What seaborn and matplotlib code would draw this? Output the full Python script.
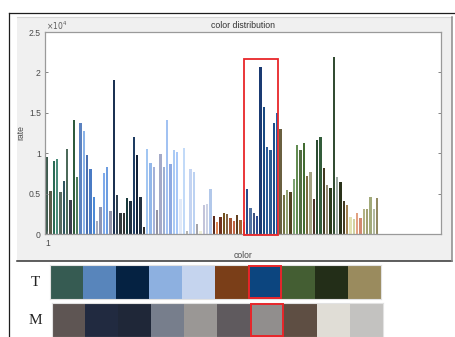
import numpy as np
import pandas as pd
import matplotlib
matplotlib.use("Agg")
import matplotlib.pyplot as plt
from matplotlib.patches import Rectangle
from matplotlib.lines import Line2D
from matplotlib.colors import ListedColormap
import seaborn as sns

plt.rcParams["font.family"] = ["Liberation Sans", "DejaVu Sans"]

# ---- data -------------------------------------------------------------
bar_labels = [str(i) for i in range(1, 101)]

rates = [
    9490, 5320, 9000, 9320, 5160, 6600, 10480, 4210, 14110, 7010,
    13700, 12790, 9820, 8000, 4620, 1650, 3380, 7510, 8330, 2890,
    19060, 4790, 2600, 2600, 4460, 4040, 12000, 9740, 4620, 830,
    10480, 8790, 8250, 2970, 9940, 8250, 14070, 8620, 10400, 10150,
    4290, 10600, 410, 8090, 7670, 1280, 330, 3590, 3670, 5610,
    2230, 1530, 2060, 2600, 2480, 1980, 1650, 2310, 1730, 1440,
    5530, 3220, 2600, 2270, 20710, 15760, 10770, 10440, 13740, 15020,
    13000, 4830, 5450, 5240, 6770, 10960, 10360, 11260, 7180, 7710,
    4330, 11630, 12050, 8130, 6060, 5650, 21950, 7090, 6400, 4040,
    3550, 2150, 1820, 2560, 1980, 3050, 3140, 4620, 3090, 4460,
]

bar_colors = [
    "#3d5a4e", "#5a5c4a", "#2a6b55", "#4a8c7a", "#596a60", "#2f5560", "#4c6a5a", "#3c3c4c", "#2e5a3c", "#4f7c5c",
    "#5b82c0", "#8ab3e8", "#4a70b0", "#4a7bc4", "#4d8ad6", "#a5aabb", "#8d96b5", "#7faaea", "#6d9de0", "#9293a8",
    "#1b3152", "#2f4050", "#33393a", "#2f3030", "#1a3a3c", "#1f2f40", "#1e3c62", "#12223a", "#223040", "#303030",
    "#a2c6f2", "#93b8ea", "#a4b2d8", "#9494a4", "#a4aac8", "#9cb0d4", "#a2c2f2", "#8eaae2", "#aacaf4", "#a8c8f8",
    "#e2eaf8", "#c2daf8", "#b4b4b0", "#c4d4f2", "#bcd2f2", "#a4a4aa", "#f0f0d8", "#c2c4da", "#ccd2e4", "#b2c8ea",
    "#5c2a1a", "#e08452", "#72321e", "#72521e", "#826242", "#a25434", "#c26444", "#624222", "#a26434", "#c08454",
    "#2a4c8c", "#5272a2", "#3c5282", "#2c4c92", "#1a3a72", "#1a4a82", "#2a5c9a", "#2c5c92", "#1c4c8a", "#2262aa",
    "#6a6040", "#727242", "#92a272", "#524222", "#7ca272", "#628c52", "#526c42", "#426c32", "#7c6c42", "#a2a282",
    "#4c3228", "#2c4c32", "#325c3a", "#423a22", "#928a72", "#2a3a1a", "#324c32", "#9caaa2", "#2a321a", "#423a22",
    "#a28252", "#e2e2b2", "#d2d2a2", "#e2a282", "#d28a72", "#b2b282", "#a2a272", "#a2aa7a", "#b2baa2", "#928a62",
]

ytick_values = [0, 5000, 10000, 15000, 20000, 25000]
ytick_labels = ["0", "0.5", "1", "1.5", "2", "2.5"]
xtick_labels = ["1"]

top_colors = ["#365b52", "#5885bb", "#052242", "#8db0e0", "#c5d4ee",
              "#7a3e18", "#0c457f", "#445e33", "#232e18", "#9a8b5e"]
bottom_colors = ["#5e5553", "#212a40", "#1f2738", "#777e8c", "#9a9795",
                 "#5f5a5e", "#918e8d", "#5e4e43", "#e0ddd6", "#c3c2c0"]
row_names = ["T", "M"]
highlight = 6  # highlighted colour group (0-based)

# ---- figure helpers (pixel -> figure fraction) -----------------------
W, H = 455, 337
fig = plt.figure(figsize=(W / 100, H / 100), dpi=100)
fig.patch.set_facecolor("white")


def fx(px):
    return px / W


def fy(py):
    return 1 - py / H


# outer frame
fig.add_artist(Line2D([fx(8.5), fx(8.5)], [fy(12.5), 0], color="#1e1e1e", lw=0.9))
fig.add_artist(Line2D([fx(8.5), 1], [fy(12.5), fy(12.5)], color="#1e1e1e", lw=0.9))

# grey figure panel
fig.add_artist(Rectangle((fx(16.7), fy(261)), (451.7 - 16.7) / W, (261 - 16.7) / H,
                         transform=fig.transFigure, facecolor="#f0f0f0",
                         edgecolor="none", zorder=0))
fig.add_artist(Line2D([fx(16.7), fx(451.7)], [fy(17), fy(17)], color="#d6d6d6", lw=0.8))
fig.add_artist(Line2D([fx(16.7), fx(452.3)], [fy(261), fy(261)], color="#333333", lw=1.1))
fig.add_artist(Line2D([fx(451.7), fx(451.7)], [fy(16.7), fy(261)], color="#8a8a8a", lw=1.1))

# ---- bar chart --------------------------------------------------------
ax = fig.add_axes([fx(45), fy(234), 396 / W, 202 / H])
df = pd.DataFrame({"color": bar_labels, "rate": rates})
sns.barplot(data=df, x="color", y="rate", hue="color",
            palette=dict(zip(bar_labels, bar_colors)), legend=False,
            saturation=1, width=0.68, edgecolor="none", linewidth=0, ax=ax)

ax.set_facecolor("white")
ax.set_xlim(-0.69, 118.2)
ax.set_ylim(0, 25000)
ax.set_xticks([0])
ax.set_xticklabels(xtick_labels)
ax.set_yticks(ytick_values)
ax.set_yticklabels(ytick_labels)
ax.tick_params(axis="both", direction="in", length=2.5, width=0.6,
               labelsize=6.2, labelcolor="#4a4a4a", color="#707070")
ax.tick_params(axis="y", right=True, pad=3)
ax.tick_params(axis="x", pad=3.5)
for side in ax.spines.values():
    side.set_color("#9a9a9a")
    side.set_linewidth(0.9)

ax.set_xlabel("color", fontsize=6.2, color="#4a4a4a")
ax.set_ylabel("rate", fontsize=6.2, color="#4a4a4a")
ax.xaxis.set_label_coords(0.5, -(251 - 234) / 202)
ax.yaxis.set_label_coords(-(45 - 25.5) / 396, 0.5)
ax.text(0.5, 1 + (32 - 25.5) / 202, "color distribution", transform=ax.transAxes,
        ha="center", va="center", fontsize=6.3, color="#333333")
ax.text(0.003, 1 + 1.5 / 202, r"$\times10^{4}$", transform=ax.transAxes, ha="left",
        va="baseline", fontsize=5.5, color="#5a5a5a")

# highlighted group
ax.add_patch(Rectangle((59.2, -150), 10.0, 21800, fill=False,
                       edgecolor="#e8262a", lw=1.3, clip_on=False, zorder=5))

# ---- colour swatch rows ---------------------------------------------
rows = [(top_colors, 50.0, 265.0, 299.0), (bottom_colors, 51.7, 303.3, 337.0)]
for (colors, x0, y_top, y_bot), name in zip(rows, row_names):
    sax = fig.add_axes([fx(x0), fy(y_bot), 331 / W, (y_bot - y_top) / H])
    sns.heatmap(np.arange(len(colors))[None, :], cmap=ListedColormap(colors),
                vmin=0, vmax=len(colors) - 1, cbar=False,
                xticklabels=False, yticklabels=False, ax=sax)
    for s in sax.spines.values():
        s.set_visible(True)
        s.set_color("#e2e2e2")
        s.set_linewidth(0.8)
    sax.add_patch(Rectangle((highlight + 0.02, 0.03), 0.96, 0.94, fill=False,
                            edgecolor="#e8262a", lw=1.4, zorder=5))
    fig.text(fx(35), fy((y_top + y_bot) / 2), name, family="Liberation Serif",
             fontsize=11, ha="center", va="center", color="#222222")

fig.savefig("out.png", dpi=100)
